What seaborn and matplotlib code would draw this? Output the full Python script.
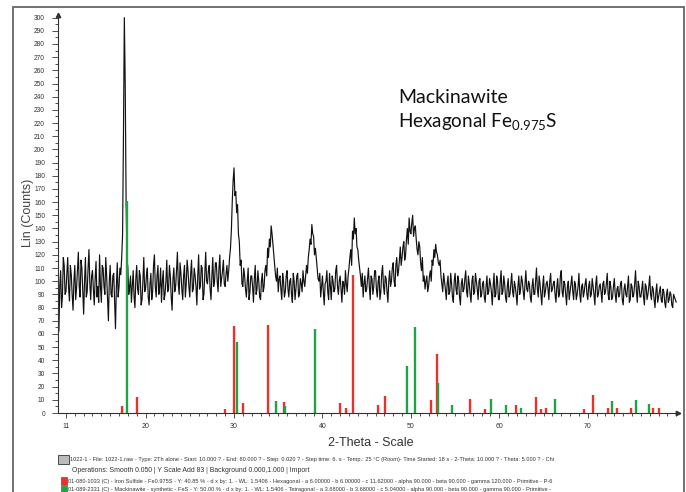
import numpy as np
import matplotlib
matplotlib.use("Agg")
import matplotlib.pyplot as plt
import seaborn as sns
from matplotlib.patches import Rectangle

# ---------------- data ----------------
SCAN_START = 10.0   # 2-theta start of the scan
SCAN_STEP = 0.1     # sampling used for the read-off counts

# Lin (Counts), one row per degree (10.0-10.9, 11.0-11.9, ...)
counts = [
    95, 84, 62, 96, 108, 80, 88, 118, 112, 90,
    92, 106, 118, 94, 85, 112, 105, 90, 78, 100,
    112, 86, 95, 108, 122, 96, 88, 116, 110, 92,
    75, 100, 118, 88, 92, 110, 124, 98, 86, 104,
    108, 94, 82, 102, 115, 88, 96, 84, 120, 96,
    84, 112, 110, 96, 90, 118, 104, 86, 70, 100,
    112, 90, 88, 104, 106, 84, 64, 96, 114, 88,
    96, 110, 105, 118, 135, 210, 300, 250, 160, 118,
    110, 90, 96, 104, 84, 96, 108, 88, 80, 102,
    112, 94, 90, 108, 104, 82, 86, 100, 118, 92,
    94, 104, 110, 88, 82, 98, 106, 86, 92, 112,
    120, 96, 88, 104, 112, 90, 96, 110, 84, 100,
    108, 86, 90, 100, 116, 92, 94, 112, 104, 88,
    78, 102, 110, 92, 96, 108, 122, 98, 90, 114,
    106, 94, 86, 104, 112, 88, 98, 116, 108, 96,
    88, 106, 116, 92, 94, 110, 104, 96, 82, 104,
    120, 94, 96, 112, 110, 86, 90, 106, 122, 100,
    98, 108, 112, 94, 86, 104, 118, 96, 100, 114,
    114, 100, 92, 110, 120, 96, 102, 108, 116, 98,
    96, 106, 112, 100, 108, 118, 125, 138, 160, 176,
    186, 165, 168, 152, 158, 136, 130, 112, 116, 98,
    96, 110, 104, 94, 88, 100, 110, 86, 92, 104,
    104, 96, 84, 102, 112, 90, 94, 108, 100, 88,
    86, 100, 106, 92, 96, 108, 112, 104, 125, 118,
    132, 126, 142, 136, 128, 120, 112, 104, 100, 110,
    92, 102, 104, 94, 86, 106, 100, 88, 92, 104,
    108, 94, 88, 100, 102, 90, 84, 106, 100, 86,
    94, 104, 106, 88, 90, 102, 98, 92, 108, 100,
    96, 104, 112, 106, 118, 124, 132, 128, 143, 136,
    134, 120, 125, 118, 110, 102, 100, 106, 88, 96,
    104, 92, 82, 98, 100, 108, 92, 86, 106, 96,
    86, 104, 100, 92, 94, 108, 112, 96, 90, 100,
    104, 94, 84, 100, 98, 90, 108, 98, 92, 104,
    110, 118, 124, 112, 138, 132, 148, 136, 140, 126,
    124, 116, 110, 104, 96, 106, 88, 98, 104, 92,
    94, 102, 110, 96, 86, 104, 102, 90, 96, 108,
    108, 94, 88, 100, 104, 86, 92, 106, 112, 96,
    90, 104, 102, 92, 84, 100, 108, 96, 100, 110,
    114, 100, 96, 112, 118, 104, 108, 116, 126, 112,
    118, 126, 130, 116, 120, 132, 140, 128, 148, 138,
    136, 144, 150, 134, 140, 142, 132, 124, 120, 130,
    126, 114, 108, 118, 100, 104, 94, 100, 104, 92,
    96, 104, 108, 100, 116, 112, 124, 118, 128, 122,
    120, 114, 112, 116, 104, 98, 92, 106, 100, 94,
    86, 98, 104, 90, 92, 106, 98, 88, 84, 100,
    106, 94, 90, 104, 100, 88, 82, 98, 102, 92,
    94, 102, 108, 92, 88, 104, 98, 90, 84, 100,
    104, 90, 92, 106, 100, 94, 86, 100, 102, 88,
    90, 98, 100, 88, 84, 96, 104, 90, 92, 102,
    98, 92, 82, 96, 106, 88, 90, 104, 100, 86,
    86, 100, 108, 90, 92, 104, 98, 88, 84, 96,
    102, 88, 90, 98, 106, 92, 88, 100, 96, 90,
    82, 96, 104, 90, 94, 104, 100, 92, 86, 98,
    108, 94, 92, 100, 98, 88, 84, 96, 102, 90,
    90, 100, 110, 94, 88, 104, 98, 90, 82, 96,
    104, 88, 92, 98, 100, 94, 86, 100, 106, 92,
    94, 98, 100, 90, 84, 96, 102, 88, 90, 104,
    108, 92, 88, 100, 98, 90, 82, 96, 100, 86,
    92, 98, 104, 92, 86, 100, 98, 86, 90, 96,
    106, 90, 84, 96, 98, 88, 92, 98, 102, 90,
    86, 96, 100, 88, 90, 102, 96, 90, 82, 98,
    104, 88, 90, 96, 98, 92, 84, 98, 100, 90,
    92, 98, 106, 90, 86, 100, 96, 86, 88, 96,
    102, 90, 84, 94, 96, 88, 90, 98, 100, 86,
    82, 94, 98, 90, 88, 96, 104, 84, 86, 98,
    96, 88, 90, 98, 108, 92, 84, 100, 96, 88,
    88, 94, 100, 88, 82, 98, 96, 86, 90, 96,
    104, 90, 86, 96, 94, 86, 80, 92, 98, 84,
    88, 92, 96, 86, 84, 94, 92, 84, 80, 90,
    94, 84, 86, 92, 90, 82, 80, 90, 88, 86,
    84,
]

# 01-080-1033 Iron Sulfide Fe0.975S (red sticks)
red_pos = [17.3, 19.0, 29.0, 30.0, 31.0, 33.8, 35.6, 42.0, 42.7, 43.5,
           46.3, 47.1, 52.3, 52.9, 56.7, 58.4, 61.9, 64.2, 64.7, 65.3,
           69.6, 70.6, 72.3, 73.3, 74.9, 77.4, 78.1]
red_int = [5.5, 12.4, 3, 66, 7.3, 67, 8.6, 7.3, 4, 105,
           6, 13, 10, 45, 11, 3, 6, 12, 3, 4,
           3, 13.6, 3.5, 3.5, 3.5, 3.5, 3.5]

# 01-089-2331 Mackinawite FeS (green sticks)
green_pos = [17.95, 30.3, 34.7, 35.8, 39.15, 49.6, 50.5, 53.1, 54.7, 59.1,
             60.7, 62.5, 66.3, 72.7, 75.4, 76.9]
green_int = [161, 54, 9, 5, 64, 36, 65, 22.5, 6, 11,
             6, 3.5, 10.5, 9, 10, 7]

y_ticks = list(range(0, 301, 10))
x_ticks = [11, 20, 30, 40, 50, 60, 70]
x_ticklabels = ["11", "20", "30", "40", "50", "60", "70"]

title_lines = ["Mackinawite", r"Hexagonal Fe$\mathregular{_{0.975}}$S"]
x_label = "2-Theta - Scale"
y_label = "Lin (Counts)"
info_lines = [
    "1022-1 - File: 1022-1.raw - Type: 2Th alone - Start: 10.000 ? - End: 80.000 ? - Step: 0.020 ? - Step time: 6. s - Temp.: 25 °C (Room)- Time Started: 18 s - 2-Theta: 10.000 ? - Theta: 5.000 ? - Chi",
    "Operations: Smooth 0.050 | Y Scale Add 83 | Background 0.000,1.000 | Import",
    "01-080-1033 (C) - Iron Sulfide - Fe0.975S - Y: 40.85 % - d x by: 1. - WL: 1.5406 - Hexagonal - a 6.00000 - b 6.00000 - c 11.62000 - alpha 90.000 - beta 90.000 - gamma 120.000 - Primitive - P-6",
    "01-089-2331 (C) - Mackinawite - synthetic - FeS - Y: 50.00 % - d x by: 1. - WL: 1.5406 - Tetragonal - a 3.68000 - b 3.68000 - c 5.04000 - alpha 90.000 - beta 90.000 - gamma 90.000 - Primitive -",
]

# ---------------- plotting ----------------
sns.set_theme(style="white")
plt.rcParams["font.family"] = ["Liberation Sans", "DejaVu Sans"]

W, H = 686, 492
fig = plt.figure(figsize=(W / 100, H / 100), dpi=100)
fig.patch.set_facecolor("white")

def fx(px):
    return px / W

def fy(py):
    return 1 - py / H

ax = fig.add_axes([fx(58), fy(413), (678 - 58) / W, (413 - 15) / H])
ax.set_facecolor("white")

two_theta = SCAN_START + SCAN_STEP * np.arange(len(counts))
sns.lineplot(x=two_theta, y=counts, ax=ax, color="#111111", lw=0.85,
             estimator=None, zorder=2)

RED = "#e8322c"
GREEN = "#1fa344"
ax.vlines(red_pos, 0, red_int, colors=RED, lw=1.7, zorder=3)
ax.vlines(green_pos, 0, green_int, colors=GREEN, lw=1.7, zorder=3)

ax.set_xlim(10.1, 80.2)
ax.set_ylim(0, 302)
ax.set_xlabel("")
ax.set_ylabel("")

for s in ["top", "right"]:
    ax.spines[s].set_visible(False)
for s in ["left", "bottom"]:
    ax.spines[s].set_color("#333333")
    ax.spines[s].set_linewidth(0.8)

ax.set_yticks(y_ticks)
ax.set_yticklabels([str(v) for v in y_ticks])
ax.set_yticks(np.arange(5, 300, 10), minor=True)
ax.set_xticks(x_ticks)
ax.set_xticklabels(x_ticklabels)
ax.set_xticks(np.arange(11, 81, 1), minor=True)

ax.tick_params(axis="y", which="major", direction="out", length=4.3, width=0.6,
               labelsize=4.8, pad=5, colors="#333333", left=True)
ax.tick_params(axis="y", which="minor", direction="out", length=2.2, width=0.6,
               colors="#333333", left=True)
ax.tick_params(axis="x", which="major", direction="out", length=3.5, width=0.6,
               labelsize=5, pad=4, colors="#333333", bottom=True)
ax.tick_params(axis="x", which="minor", direction="out", length=2.2, width=0.6,
               colors="#333333", bottom=True)

# arrow heads at the axis ends
ax.plot(1, 0, marker=">", ms=3.2, color="#333333", transform=ax.transAxes,
        clip_on=False, zorder=5)
ax.plot(0, 1, marker="^", ms=3.2, color="#333333", transform=ax.transAxes,
        clip_on=False, zorder=5)

# axis titles
fig.text(fx(371), fy(443), x_label, ha="center", va="center", fontsize=9,
         color="#333333")
fig.text(fx(28), fy(213), y_label, ha="center", va="center", rotation=90,
         fontsize=9, color="#444444")

# annotation
fig.text(fx(398), fy(103), title_lines[0], ha="left", va="baseline",
         fontsize=14, family=["Lato", "DejaVu Sans"], color="#111111")
fig.text(fx(398), fy(127), title_lines[1], ha="left", va="baseline",
         fontsize=13.6, family=["Lato", "DejaVu Sans"], color="#111111")

# outer frame
fig.patches.append(Rectangle((fx(13), -0.02), (684 - 13) / W, fy(7) + 0.02,
                             transform=fig.transFigure, fill=False,
                             edgecolor="#666666", lw=1.3, zorder=0))

# info lines with icons
fig.canvas.draw()
renderer = fig.canvas.get_renderer()
info_specs = [  # (x start px, y center px, target width px)
    (70, 460, 487),
    (72, 470, 240),
    (68, 481, 495),
    (68, 490, 494),
]
for (x0, yc, tw), s in zip(info_specs, info_lines):
    t = fig.text(fx(x0), fy(yc), s, ha="left", va="center", fontsize=5,
                 color="#333333")
    w = t.get_window_extent(renderer).width
    t.set_fontsize(5 * tw / w)

icon_specs = [  # (x px, y top px, w, h, face, edge)
    (58, 455, 11, 9, "#bbbbbb", "#333333"),
    (61, 477, 6, 8, RED, RED),
    (61, 486, 6, 8, GREEN, GREEN),
]
for x0, y0, w, h, fc, ec in icon_specs:
    fig.patches.append(Rectangle((fx(x0), fy(y0 + h)), w / W, h / H,
                                 transform=fig.transFigure, facecolor=fc,
                                 edgecolor=ec, lw=0.6))

fig.savefig("out.png", dpi=100, facecolor="white")
